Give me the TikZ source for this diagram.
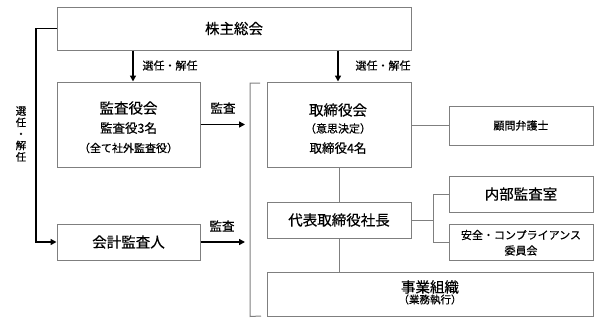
\documentclass[tikz,border=0pt]{standalone}
\usepackage{fontspec}
\setmainfont{Noto Sans CJK JP}[FakeBold=0.4]
\usetikzlibrary{arrows.meta}
\definecolor{boxgray}{HTML}{7F7F7F}
\begin{document}
\begin{tikzpicture}[x=1pt,y=-1pt,
  box/.style={draw=boxgray,line width=1pt,inner sep=0pt,fill=white},
  big/.style={font=\fontsize{14.5}{17}\selectfont,inner sep=0pt},
  mid/.style={font=\fontsize{12.5}{15}\selectfont,inner sep=0pt},
  small/.style={font=\fontsize{11}{13}\selectfont,inner sep=0pt},
  tiny/.style={font=\fontsize{10.5}{12}\selectfont,inner sep=0pt},
  conn/.style={draw=boxgray,line width=1pt},
  arr/.style={draw=black,line width=1.5pt,-{Triangle[length=6pt,width=6pt]}}]
\useasboundingbox (0,0) rectangle (600,324);
% boxes
\node[box,minimum width=354pt,minimum height=43pt] (top) at (234,28.5) {};
\node[box,minimum width=143pt,minimum height=85pt] (kansa) at (128.5,124.5) {};
\node[box,minimum width=144pt,minimum height=85pt] (tori) at (339,124.5) {};
\node[box,minimum width=144pt,minimum height=39pt] (komon) at (521,125.5) {};
\node[box,minimum width=144pt,minimum height=36pt] (daihyo) at (339,220) {};
\node[box,minimum width=144pt,minimum height=36pt] (naibu) at (521,194) {};
\node[box,minimum width=144pt,minimum height=36pt] (anzen) at (521,242) {};
\node[box,minimum width=326pt,minimum height=44pt] (jigyo) at (430,294) {};
\node[box,minimum width=143pt,minimum height=36pt] (kaikei) at (128.5,242) {};
% texts
\node[big] (topT) at (top.center) {株主総会};
\node[big] (kansaA) at (128.5,108) {監査役会};
\node[mid] (kansaB) at (128.5,128) {監査役3名};
\node[small] (kansaC) at (128.5,148) {（全て社外監査役）};
\node[big] (toriA) at (338,110) {取締役会};
\node[small] (toriB) at (338,128.5) {（意思決定）};
\node[mid] (toriC) at (338,148) {取締役4名};
\node[small] (komonT) at (komon.center) {顧問弁護士};
\node[big] (daihyoT) at (daihyo.center) {代表取締役社長};
\node[big] (naibuT) at (naibu.center) {内部監査室};
\node[small] (anzenA) at (521,235) {安全・コンプライアンス};
\node[small] (anzenB) at (521,250.5) {委員会};
\node[big] (jigyoA) at (430,287) {事業組織};
\node[tiny] (jigyoB) at (430,299.5) {（業務執行）};
\node[big] (kaikeiT) at (kaikei.center) {会計監査人};
% labels
\node[small] (sel1) at (170,65.5) {選任・解任};
\node[small] (sel2) at (383,65.5) {選任・解任};
\node[mid] (kan1) at (223,108) {監査};
\node[mid] (kan2) at (222,226) {監査};
\node[align=center,inner sep=0pt,font=\fontsize{10.5}{11.5}\selectfont] (selV) at (21,134) {選\\任\\・\\解\\任};
% coordinates
\coordinate (ka) at (133,0);
\coordinate (ta) at (338,0);
\coordinate (brk) at (245,0);
\coordinate (bx) at (250,0);
\coordinate (br) at (433,220);
\coordinate (lft) at (36,0);
% bracket
\draw[conn] (260,83) -- (bx |- 0,83) -- (bx |- jigyo.south) -- (261,316);
% gray connectors
\draw[conn] (komon.west -| tori.east) -- (komon.west);
\draw[conn] (tori.south) -- (daihyo.north);
\draw[conn] (daihyo.south) -- (jigyo.north -| daihyo.south);
\draw[conn] (daihyo.east) -- (br);
\draw[conn] (naibu.west) -| (br);
\draw[conn] (anzen.west) -| (br);
% black arrows
\draw[arr] (top.south -| ka) -- (kansa.north -| ka);
\draw[arr] (top.south -| ta) -- (tori.north -| ta);
\draw[arr] (kansa.east) -- (kansa.east -| brk);
\draw[arr] (kaikei.east) -- (kaikei.east -| brk);
\draw[arr] (top.west) -- (top.west -| lft) |- (kaikei.west);
\end{tikzpicture}
\end{document}
